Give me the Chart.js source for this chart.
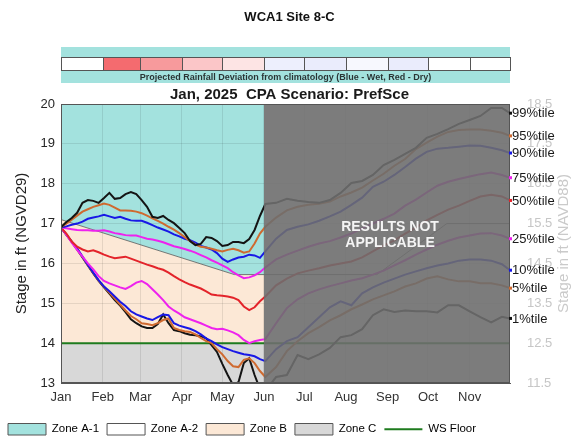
<!DOCTYPE html>
<html>
<head>
<meta charset="utf-8">
<script src="https://cdn.jsdelivr.net/npm/chart.js@4.4.1/dist/chart.umd.min.js"></script>
<style>
  html, body { margin: 0; padding: 0; background: #fff; }
  #wrap { width: 579px; height: 445px; }
</style>
</head>
<body>
<div id="wrap"><canvas id="stageChart" width="579" height="445"></canvas></div>
<script>
// --- values ---
const monthNames = ['Jan', 'Feb', 'Mar', 'Apr', 'May', 'Jun', 'Jul', 'Aug', 'Sep', 'Oct', 'Nov'];
const monthDays = [0, 31, 59, 90, 120, 151, 181, 212, 243, 273, 304];
const lastDay = 334;
const naStartDay = 151;
const leftTicks = [13, 14, 15, 16, 17, 18, 19, 20];
const rightTicks = [11.5, 12.5, 13.5, 14.5, 15.5, 16.5, 17.5, 18.5];

// rainfall deviation per month, % (negative = dry / red, positive = wet / blue)
const rainDeviation = [0, -76, -52, -29, -14, 9, 11, 4, 11, 0, 0];

const days = [0, 4, 8, 12, 16, 20, 24, 28, 32, 36, 40, 44, 48, 52, 56, 60, 64, 68, 72, 76,
  80, 84, 88, 92, 96, 100, 104, 108, 112, 116, 120, 124, 128, 132, 136, 140, 144, 148, 152,
  160, 168, 176, 184, 192, 200, 208, 216, 224, 232, 240, 248, 256, 264, 272, 280, 288, 296,
  304, 312, 320, 328, 334];

const p99 = [16.91, 17.04, 17.14, 17.27, 17.52, 17.59, 17.57, 17.52, 17.64, 17.77, 17.62, 17.64, 17.74,
  17.79, 17.74, 17.59, 17.42, 17.17, 17.14, 17.19, 17.09, 17.01, 16.89, 16.76, 16.56, 16.46, 16.49,
  16.66, 16.64, 16.56, 16.44, 16.46, 16.54, 16.54, 16.51, 16.61, 16.84, 17.19, 17.49,
  17.52, 17.62, 17.57, 17.54, 17.52, 17.59, 17.77, 18.02, 18.07, 18.22, 18.47, 18.6, 18.75, 18.9,
  19.15, 19.25, 19.37, 19.5, 19.6, 19.7, 19.9, 19.9, 19.77];
const p95 = [16.91, 17.0, 17.1, 17.2, 17.3, 17.36, 17.42, 17.46, 17.5, 17.47, 17.4, 17.33, 17.33, 17.32,
  17.3, 17.26, 17.2, 17.13, 17.07, 17.0, 16.92, 16.85, 16.76, 16.66, 16.56, 16.47, 16.42, 16.4, 16.37,
  16.33, 16.3, 16.34, 16.37, 16.33, 16.27, 16.3, 16.5, 16.75, 16.92,
  17.15, 17.33, 17.42, 17.47, 17.5, 17.55, 17.68, 17.78, 17.9, 18.08, 18.25, 18.45, 18.62, 18.87,
  19.03, 19.18, 19.3, 19.35, 19.36, 19.36, 19.33, 19.28, 19.2];
const p90 = [16.9, 16.93, 16.97, 17.0, 17.05, 17.12, 17.15, 17.18, 17.22, 17.18, 17.14, 17.17, 17.12,
  17.08, 17.07, 17.07, 17.02, 16.96, 16.9, 16.85, 16.8, 16.73, 16.68, 16.62, 16.58, 16.52, 16.44, 16.4,
  16.35, 16.26, 16.12, 16.04, 16.1, 16.15, 16.17, 16.22, 16.2, 16.14, 16.3,
  16.62, 16.84, 16.92, 16.98, 17.07, 17.18, 17.3, 17.47, 17.65, 17.92, 18.05, 18.22, 18.42, 18.63,
  18.8, 18.88, 18.9, 18.93, 18.96, 18.95, 18.9, 18.84, 18.77];
const p75 = [16.9, 16.88, 16.86, 16.84, 16.83, 16.83, 16.82, 16.82, 16.83, 16.8, 16.76, 16.74, 16.71,
  16.7, 16.7, 16.66, 16.62, 16.6, 16.57, 16.53, 16.48, 16.43, 16.4, 16.36, 16.32, 16.27, 16.21, 16.15,
  16.08, 16.02, 15.95, 15.88, 15.78, 15.7, 15.63, 15.65, 15.7, 15.78, 15.9,
  16.1, 16.22, 16.32, 16.42, 16.5, 16.56, 16.65, 16.75, 16.88, 17.0, 17.12, 17.25, 17.45, 17.6,
  17.78, 17.95, 18.05, 18.12, 18.18, 18.24, 18.28, 18.22, 18.15];
const p50 = [16.9, 16.75, 16.55, 16.42, 16.35, 16.3, 16.33, 16.28, 16.22, 16.17, 16.13, 16.15, 16.17,
  16.12, 16.07, 16.02, 15.97, 15.93, 15.88, 15.84, 15.77, 15.68, 15.6, 15.53, 15.47, 15.42, 15.37, 15.3,
  15.22, 15.2, 15.19, 15.17, 15.14, 15.08, 14.92, 14.83, 14.9, 15.05, 15.17,
  15.45, 15.62, 15.75, 15.82, 15.88, 15.95, 16.0, 16.05, 16.15, 16.3, 16.45, 16.58, 16.75, 16.9,
  17.08, 17.22, 17.35, 17.45, 17.57, 17.68, 17.72, 17.68, 17.58];
const p25 = [16.9, 16.72, 16.52, 16.34, 16.17, 16.0, 15.85, 15.68, 15.56, 15.5, 15.45, 15.4, 15.36,
  15.43, 15.52, 15.56, 15.48, 15.35, 15.22, 15.08, 14.92, 14.82, 14.74, 14.65, 14.6, 14.55, 14.5, 14.44,
  14.38, 14.35, 14.36, 14.32, 14.27, 14.2, 14.08, 14.0, 14.05, 14.08, 14.1,
  14.5, 14.88, 15.1, 15.25, 15.35, 15.43, 15.5, 15.57, 15.63, 15.72, 15.82, 15.95, 16.08, 16.22,
  16.35, 16.47, 16.57, 16.65, 16.7, 16.75, 16.76, 16.7, 16.62];
const p10 = [16.9, 16.72, 16.55, 16.38, 16.17, 15.96, 15.77, 15.58, 15.42, 15.3, 15.17, 15.04, 14.93,
  14.8, 14.72, 14.67, 14.62, 14.58, 14.65, 14.72, 14.7, 14.5, 14.44, 14.4, 14.36, 14.3, 14.22, 14.12,
  14.05, 13.97, 13.9, 13.85, 13.8, 13.76, 13.72, 13.7, 13.67, 13.6, 13.55,
  13.85, 14.05, 14.15, 14.4, 14.65, 14.9, 15.05, 14.95, 15.25, 15.4, 15.52, 15.62, 15.72, 15.8,
  15.88, 15.95, 16.0, 16.07, 16.1, 16.1, 16.07, 15.98, 15.83];
const p5 = [16.9, 16.72, 16.54, 16.36, 16.16, 15.95, 15.76, 15.57, 15.41, 15.27, 15.12, 14.97, 14.82,
  14.68, 14.6, 14.5, 14.48, 14.45, 14.5, 14.58, 14.62, 14.38, 14.33, 14.3, 14.28, 14.22, 14.13, 14.05,
  14.0, 13.85, 13.72, 13.55, 13.42, 13.4, 13.58, 13.62, 13.5, 13.3, 13.15,
  13.4, 13.8, 14.05, 14.25, 14.4, 14.57, 14.7, 14.85, 14.97, 15.1, 15.2, 15.3, 15.42, 15.5,
  15.62, 15.68, 15.6, 15.55, 15.55, 15.5, 15.5, 15.45, 15.38];
const p1 = [16.9, 16.72, 16.54, 16.35, 16.15, 15.95, 15.75, 15.56, 15.4, 15.24, 15.08, 14.94, 14.78,
  14.6, 14.5, 14.42, 14.38, 14.38, 14.48, 14.72, 14.5, 14.33, 14.3, 14.25, 14.21, 14.2, 14.17, 14.12,
  13.95, 13.78, 13.48, 13.2, 12.95, 13.02, 13.5, 13.62, 13.2, 12.85, 12.8,
  13.15, 13.2, 13.7, 13.6, 13.72, 13.88, 14.15, 14.2, 14.35, 14.7, 14.85, 14.78, 14.82, 14.8,
  14.8, 14.77, 14.95, 14.95, 14.8, 14.65, 14.52, 14.66, 14.62];

// zone A-1 lower edge (filled part ends where results stop applying)
const zoneFillDays = [0, 129, 151];
const zoneA1Bottom = [17.1, 15.72, 15.72];
const boundaryDays = [0, 129, 235, 287, 334];
const boundaryVals = [17.1, 15.72, 15.72, 17.0, 17.0];
const wsFloor = 14;

const pctNames = ['99%tile', '95%tile', '90%tile', '75%tile', '50%tile', '25%tile', '10%tile', '5%tile', '1%tile'];
const pctSeries = [p99, p95, p90, p75, p50, p25, p10, p5, p1];
const zoneNames = ['Zone A-1', 'Zone A-2', 'Zone B', 'Zone C', 'WS Floor'];

// --- colours ---
const TEAL = '#a3e2de';
const PEACH = '#fce8d6';
const GREYZONE = '#d8d8d8';
const GREEN = '#1e7b1e';
const BLACK = '#141414', ORANGE = '#cf6a30', BLUE = '#1818e6', MAGENTA = '#ee22ee', RED = '#e3242b';
const pctColors = [BLACK, ORANGE, BLUE, MAGENTA, RED, MAGENTA, BLUE, ORANGE, BLACK];
const FONT = '"Liberation Sans", Arial, sans-serif';
Chart.defaults.font.family = FONT;

function rainColor(d) {
  const t = Math.min(Math.abs(d) / 100, 1);
  if (d < 0) return `rgb(${Math.round(255 - 15 * t)},${Math.round(255 - 195 * t)},${Math.round(255 - 190 * t)})`;
  return `rgb(${Math.round(255 - 195 * t)},${Math.round(255 - 175 * t)},${Math.round(255 - 25 * t)})`;
}

const pts = (xs, ys) => xs.map((v, i) => ({ x: v, y: ys[i] }));

const datasets = pctSeries.map((vals, i) => ({
  label: pctNames[i],
  data: pts(days, vals),
  borderColor: pctColors[i],
  borderWidth: 2,
  fill: false
}));
datasets.push(
  { label: 'WS Floor', data: pts([0, lastDay], [wsFloor, wsFloor]), borderColor: GREEN, borderWidth: 2, fill: false },
  { label: 'boundary', data: pts(boundaryDays, boundaryVals), borderColor: 'rgba(90,90,90,0.8)', borderWidth: 1, fill: false },
  { label: 'Zone C', data: pts([0, naStartDay], [wsFloor, wsFloor]), borderWidth: 0, backgroundColor: GREYZONE, fill: 'start' },
  { label: 'Zone A-1', data: pts(zoneFillDays, zoneA1Bottom), borderWidth: 0, backgroundColor: TEAL, fill: 'end' },
  { label: 'Zone B', data: pts(zoneFillDays, zoneA1Bottom), borderWidth: 0, backgroundColor: PEACH, fill: 'start' }
);

const legendFill = [TEAL, '#ffffff', PEACH, GREYZONE, GREEN];

const extras = {
  id: 'extras',
  afterDatasetsDraw(chart) {
    const { ctx, chartArea: a, scales: { x } } = chart;
    const x0 = x.getPixelForValue(naStartDay);
    ctx.save();
    ctx.fillStyle = 'rgba(110,110,110,0.9)';
    ctx.fillRect(x0, a.top, a.right - x0, a.bottom - a.top);
    ctx.fillStyle = '#f4f4f4';
    ctx.font = 'bold 14px ' + FONT;
    ctx.textAlign = 'center';
    ctx.textBaseline = 'middle';
    const cx = (x0 + a.right) / 2 + 3;
    const cy = a.top + (a.bottom - a.top) * 0.44;
    ctx.fillText('RESULTS NOT', cx, cy);
    ctx.fillText('APPLICABLE', cx, cy + 16);
    // axes box
    ctx.strokeStyle = '#555';
    ctx.lineWidth = 1;
    ctx.strokeRect(a.left + 0.5, a.top + 0.5, a.right - a.left - 1, a.bottom - a.top - 1);
    ctx.restore();
  },
  afterDraw(chart) {
    const { ctx, chartArea: a, scales: { x, y } } = chart;
    ctx.save();
    // right axis title (faded)
    ctx.save();
    ctx.translate(564, (a.top + a.bottom) / 2);
    ctx.rotate(-Math.PI / 2);
    ctx.fillStyle = '#cacaca';
    ctx.font = '15px ' + FONT;
    ctx.textAlign = 'center';
    ctx.textBaseline = 'middle';
    ctx.fillText('Stage in ft (NAVD88)', 0, 0);
    ctx.restore();

    // percentile end labels
    ctx.font = '13px ' + FONT;
    ctx.textAlign = 'left';
    ctx.textBaseline = 'middle';
    pctSeries.forEach((vals, i) => {
      const py = y.getPixelForValue(vals[vals.length - 1]);
      ctx.fillStyle = pctColors[i];
      ctx.fillRect(a.right - 1, py - 1.5, 3, 3);
      ctx.fillStyle = '#1a1a1a';
      ctx.fillText(pctNames[i], a.right + 2, py + 0.5);
    });

    // rainfall deviation strip
    const left = x.getPixelForValue(0);
    const right = x.getPixelForValue(lastDay);
    ctx.fillStyle = TEAL;
    ctx.fillRect(left, 47, right - left, 36);
    rainDeviation.forEach((d, i) => {
      const c0 = Math.round(x.getPixelForValue(monthDays[i]));
      const c1 = Math.round(x.getPixelForValue(i + 1 < monthDays.length ? monthDays[i + 1] : lastDay));
      ctx.fillStyle = rainColor(d);
      ctx.fillRect(c0, 57, c1 - c0, 13);
      ctx.strokeStyle = '#555';
      ctx.lineWidth = 1;
      ctx.strokeRect(c0 + 0.5, 57.5, c1 - c0, 13);
    });
    ctx.fillStyle = '#2a3535';
    ctx.font = 'bold 9px ' + FONT;
    ctx.textAlign = 'center';
    ctx.fillText('Projected Rainfall Deviation from climatology (Blue - Wet, Red - Dry)', (left + right) / 2, 77.5);
    ctx.restore();
  }
};

new Chart(document.getElementById('stageChart'), {
  type: 'line',
  data: { datasets },
  options: {
    responsive: false,
    animation: false,
    devicePixelRatio: 1,
    layout: { padding: 0 },
    elements: { point: { radius: 0 }, line: { tension: 0 } },
    scales: {
      x: {
        type: 'linear', min: 0, max: lastDay,
        afterBuildTicks: s => { s.ticks = monthDays.map(v => ({ value: v })); },
        afterFit: s => { s.height = 32.5; },
        ticks: {
          callback: v => monthNames[monthDays.indexOf(v)],
          font: { size: 13 }, color: '#333', padding: 7, maxRotation: 0, autoSkip: false
        },
        grid: { color: 'rgba(0,0,0,0.09)', drawTicks: false },
        border: { color: '#555' }
      },
      y: {
        min: 13, max: 20,
        afterBuildTicks: s => { s.ticks = leftTicks.map(v => ({ value: v })); },
        afterFit: s => { s.width = 61; },
        ticks: { font: { size: 13 }, color: '#262626', padding: 6 },
        title: { display: true, text: 'Stage in ft (NGVD29)', font: { size: 15 }, color: '#222', padding: { top: 13, bottom: 0 } },
        grid: { color: 'rgba(0,0,0,0.09)', drawTicks: false },
        border: { color: '#555' }
      },
      y2: {
        position: 'right', min: 11.5, max: 18.5,
        afterBuildTicks: s => { s.ticks = rightTicks.map(v => ({ value: v })); },
        afterFit: s => { s.width = 69; },
        ticks: { font: { size: 13 }, color: '#c6c6c6', padding: 9, callback: v => v.toFixed(1) },
        grid: { display: false },
        border: { display: false }
      }
    },
    plugins: {
      filler: { drawTime: 'beforeDraw' },
      tooltip: { enabled: false },
      title: {
        display: true, text: 'WCA1 Site 8-C',
        font: { size: 13, weight: 'bold' }, color: '#111',
        padding: { top: 10, bottom: 60.4 }
      },
      subtitle: {
        display: true, text: 'Jan, 2025  CPA Scenario: PrefSce',
        font: { size: 15, weight: 'bold' }, color: '#1a1a1a',
        padding: { top: 0, bottom: 0 }
      },
      legend: {
        position: 'bottom', align: 'start',
        onClick: () => {},
        labels: {
          usePointStyle: true, pointStyleWidth: 38, boxHeight: 11.5, padding: 8,
          font: { size: 11.5 }, color: '#333',
          generateLabels: () => zoneNames.map((name, i) => ({
            text: name,
            fillStyle: legendFill[i],
            strokeStyle: i === 4 ? GREEN : '#555',
            lineWidth: i === 4 ? 2 : 1,
            pointStyle: i === 4 ? 'line' : 'rect',
            hidden: false,
            datasetIndex: i
          }))
        }
      }
    }
  },
  plugins: [extras]
});
</script>
</body>
</html>
